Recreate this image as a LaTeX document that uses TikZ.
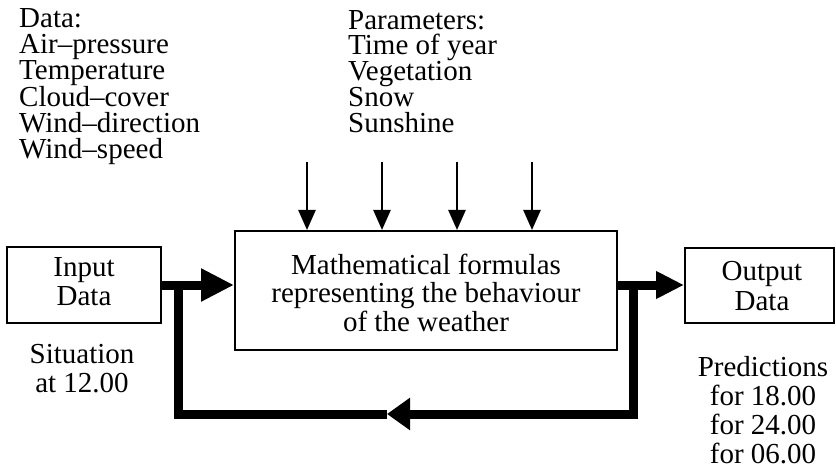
\documentclass[tikz,border=0pt]{standalone}
\usepackage{fontspec}
\setmainfont{Liberation Serif}
\usetikzlibrary{arrows.meta}
\begin{document}
\begin{tikzpicture}[x=1pt,y=-1pt,
  boxnode/.style={draw, line width=2pt, inner sep=0pt},
  txt/.style={inner sep=0pt, font=\fontsize{29}{26}\selectfont},
  txtc/.style={inner sep=0pt, align=center, font=\fontsize{29}{29}\selectfont},
  boxtxt/.style={inner sep=0pt, align=center, font=\fontsize{29}{28.5}\selectfont},
  thickline/.style={line width=9pt, line join=miter},
  thinarrow/.style={line width=2.5pt, -{Triangle[length=20pt,width=17pt]}}]
\useasboundingbox (0,0) rectangle (836,468);

% boxes
\node[boxnode, minimum width=154pt, minimum height=76pt] (in) at (84,285) {};
\node[boxnode, minimum width=382pt, minimum height=119pt] (main) at (426,290.5) {};
\node[boxnode, minimum width=149pt, minimum height=75pt] (out) at (759.5,285.5) {};

% box texts (anchor base = baseline of last line)
\node[boxtxt, anchor=base] (intxt) at (84,305) {Input\\Data};
\node[boxtxt, anchor=base] (maintxt) at (426,331)
  {Mathematical formulas\\representing the behaviour\\of the weather};
\node[boxtxt, anchor=base, font=\fontsize{29}{30}\selectfont] (outtxt) at (762,310) {Output\\Data};

% texts
\node[txt, align=left, anchor=base west] (data) at (19,159)
  {Data:\\Air--pressure\\Temperature\\Cloud--cover\\Wind--direction\\Wind--speed};
\node[txt, align=left, anchor=base west] (params) at (348,133)
  {Parameters:\\Time of year\\Vegetation\\Snow\\Sunshine};
\node[txtc, anchor=base] (sit) at (82,392) {Situation\\at 12.00};
\node[txtc, anchor=base] (pred) at (763,463) {Predictions\\for 18.00\\for 24.00\\for 06.00};

% parameter arrows
\foreach \i/\x in {1/307,2/382,3/457,4/532}{
  \coordinate (p\i) at (\x,162);
  \draw[thinarrow] (p\i) -- (p\i |- main.north);
}

% main flow
\draw[thickline, -{Triangle[length=33pt,width=31pt]}] (in.east) -- (in.east -| main.west);
\draw[thickline, -{Triangle[length=28pt,width=26pt]}] (main.east |- in.east) -- (in.east -| out.west);

% feedback loop
\coordinate (j1) at (178,285);
\coordinate (j2) at (633,285);
\coordinate (b1) at (178,414);
\coordinate (b2) at (633,414);
\coordinate (fb) at (387,414);
\draw[thickline, -{Triangle[length=23pt,width=31pt]}] (j2) -- (b2) -- (fb);
\draw[thickline] (fb) -- (b1) -- (j1);
\end{tikzpicture}
\end{document}
